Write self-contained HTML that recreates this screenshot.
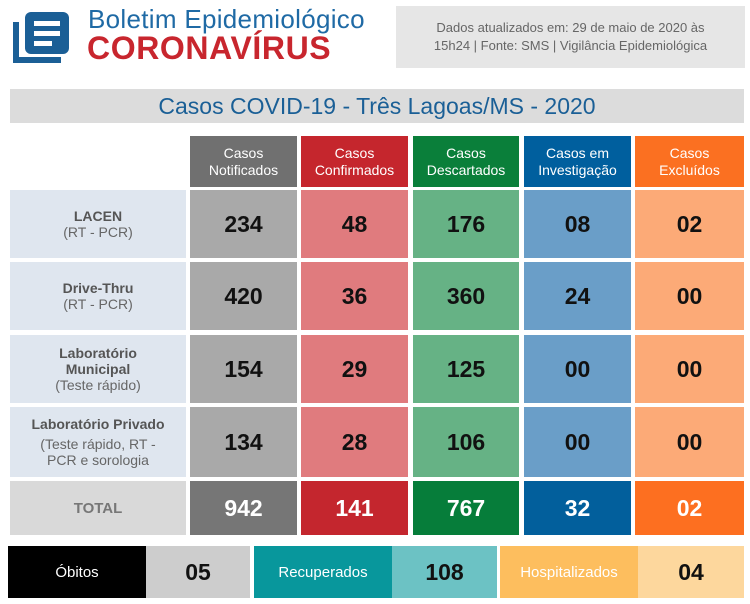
<!DOCTYPE html>
<html><head><meta charset="utf-8"><style>
*{margin:0;padding:0;box-sizing:border-box}
body{width:750px;height:604px;background:#fff;position:relative;font-family:"Liberation Sans",sans-serif;overflow:hidden}
.a{position:absolute;display:flex;align-items:center;justify-content:center;text-align:center}
.h{color:#fff;font-size:14px;line-height:17px}
.n{font-size:23px;font-weight:bold;color:#111}
.l{color:#666;font-size:14px;line-height:16px;flex-direction:column}
.l b{color:#555}
.t{color:#fff;font-size:23px;font-weight:bold}
</style></head><body>
<svg style="position:absolute;left:13px;top:10px" width="58" height="54" viewBox="0 0 58 54">
<path d="M3 12 V50 H48" stroke="#1b5f96" stroke-width="6" fill="none"/>
<rect x="12" y="2" width="44" height="42" rx="6" fill="#1b5f96"/>
<rect x="21" y="11" width="26" height="5" fill="#fff"/>
<rect x="21" y="21" width="26" height="5" fill="#fff"/>
<rect x="21" y="31" width="18" height="5" fill="#fff"/>
</svg>
<div style="position:absolute;left:88px;top:4px;font-size:26px;color:#1f6aa5;letter-spacing:0.3px">Boletim Epidemiológico</div>
<div style="position:absolute;left:87px;top:30px;font-size:32px;font-weight:bold;color:#c8262e;letter-spacing:0.6px">CORONAVÍRUS</div>
<div class="a" style="left:396px;top:6px;width:349px;height:62px;background:#e6e6e6;color:#666;font-size:13px;line-height:18px">Dados atualizados em: 29 de maio de 2020 às<br>15h24 | Fonte: SMS | Vigilância Epidemiológica</div>
<div class="a" style="left:10px;top:89px;width:734px;height:34px;background:#dcdcdc;color:#1a5f96;font-size:23px">Casos COVID-19 - Três Lagoas/MS - 2020</div>

<div class="a h" style="left:190px;top:136px;width:107px;height:51px;background:#707070">Casos<br>Notificados</div>
<div class="a h" style="left:301px;top:136px;width:107px;height:51px;background:#c5262d">Casos<br>Confirmados</div>
<div class="a h" style="left:413px;top:136px;width:106px;height:51px;background:#0a7f3a">Casos<br>Descartados</div>
<div class="a h" style="left:524px;top:136px;width:107px;height:51px;background:#005f9e">Casos em<br>Investigação</div>
<div class="a h" style="left:635px;top:136px;width:109px;height:51px;background:#fb7021">Casos<br>Excluídos</div>

<div class="a l" style="left:10px;top:190px;width:176px;height:68px;background:#dfe6ef"><b>LACEN</b>(RT - PCR)</div>
<div class="a l" style="left:10px;top:262px;width:176px;height:68px;background:#dfe6ef"><b>Drive-Thru</b>(RT - PCR)</div>
<div class="a l" style="left:10px;top:335px;width:176px;height:68px;background:#dfe6ef"><b>Laboratório<br>Municipal</b>(Teste rápido)</div>
<div class="a l" style="left:10px;top:407px;width:176px;height:70px;background:#dfe6ef"><b>Laboratório Privado</b><span style="margin-top:4px">(Teste rápido, RT -<br>PCR e sorologia</span></div>

<div class="a n" style="left:190px;top:190px;width:107px;height:68px;background:#a9a9a9">234</div>
<div class="a n" style="left:301px;top:190px;width:107px;height:68px;background:#e07b7e">48</div>
<div class="a n" style="left:413px;top:190px;width:106px;height:68px;background:#66b285">176</div>
<div class="a n" style="left:524px;top:190px;width:107px;height:68px;background:#6a9ec8">08</div>
<div class="a n" style="left:635px;top:190px;width:109px;height:68px;background:#fcaa77">02</div>

<div class="a n" style="left:190px;top:262px;width:107px;height:68px;background:#a9a9a9">420</div>
<div class="a n" style="left:301px;top:262px;width:107px;height:68px;background:#e07b7e">36</div>
<div class="a n" style="left:413px;top:262px;width:106px;height:68px;background:#66b285">360</div>
<div class="a n" style="left:524px;top:262px;width:107px;height:68px;background:#6a9ec8">24</div>
<div class="a n" style="left:635px;top:262px;width:109px;height:68px;background:#fcaa77">00</div>

<div class="a n" style="left:190px;top:335px;width:107px;height:68px;background:#a9a9a9">154</div>
<div class="a n" style="left:301px;top:335px;width:107px;height:68px;background:#e07b7e">29</div>
<div class="a n" style="left:413px;top:335px;width:106px;height:68px;background:#66b285">125</div>
<div class="a n" style="left:524px;top:335px;width:107px;height:68px;background:#6a9ec8">00</div>
<div class="a n" style="left:635px;top:335px;width:109px;height:68px;background:#fcaa77">00</div>

<div class="a n" style="left:190px;top:407px;width:107px;height:70px;background:#a9a9a9">134</div>
<div class="a n" style="left:301px;top:407px;width:107px;height:70px;background:#e07b7e">28</div>
<div class="a n" style="left:413px;top:407px;width:106px;height:70px;background:#66b285">106</div>
<div class="a n" style="left:524px;top:407px;width:107px;height:70px;background:#6a9ec8">00</div>
<div class="a n" style="left:635px;top:407px;width:109px;height:70px;background:#fcaa77">00</div>

<div class="a" style="left:10px;top:481px;width:176px;height:54px;background:#d9d9d9;color:#777;font-weight:bold;font-size:15px">TOTAL</div>
<div class="a t" style="left:190px;top:481px;width:107px;height:54px;background:#767676">942</div>
<div class="a t" style="left:301px;top:481px;width:107px;height:54px;background:#c4262e">141</div>
<div class="a t" style="left:413px;top:481px;width:106px;height:54px;background:#067d3a">767</div>
<div class="a t" style="left:524px;top:481px;width:107px;height:54px;background:#025f9c">32</div>
<div class="a t" style="left:635px;top:481px;width:109px;height:54px;background:#fd6f20">02</div>

<div class="a" style="left:8px;top:546px;width:138px;height:52px;background:#000;color:#fff;font-size:15px">Óbitos</div>
<div class="a n" style="left:146px;top:546px;width:104px;height:52px;background:#cdcdcd">05</div>
<div class="a" style="left:254px;top:546px;width:138px;height:52px;background:#08979c;color:#fff;font-size:15px">Recuperados</div>
<div class="a n" style="left:392px;top:546px;width:105px;height:52px;background:#6cc2c4">108</div>
<div class="a" style="left:500px;top:546px;width:138px;height:52px;background:#fdbe5e;color:#fff;font-size:15px">Hospitalizados</div>
<div class="a n" style="left:638px;top:546px;width:106px;height:52px;background:#fdd79d">04</div>
</body></html>
